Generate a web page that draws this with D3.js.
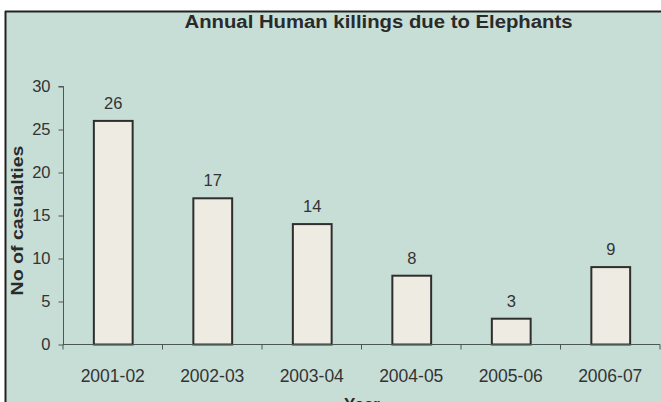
<!DOCTYPE html>
<html>
<head>
<meta charset="utf-8">
<script src="https://cdn.jsdelivr.net/npm/d3@7"></script>
<style>
  html, body { margin: 0; padding: 0; background: #fff; }
  svg { display: block; }
</style>
</head>
<body>
<div id="chart"></div>
<script>
// Annual human deaths caused by elephants, by financial year
const years = ["2001-02", "2002-03", "2003-04", "2004-05", "2005-06", "2006-07"];
const casualties = [26, 17, 14, 8, 3, 9];
const yTicks = [0, 5, 10, 15, 20, 25, 30];

const W = 661, H = 402;
const svg = d3.select("#chart").append("svg")
  .attr("width", W).attr("height", H);

// chart panel with dark frame on top and left
svg.append("rect").attr("x", 6).attr("y", 12).attr("width", W - 6).attr("height", H - 12)
  .attr("fill", "#c7ded7");
svg.append("line").attr("x1", 5).attr("x2", W).attr("y1", 11.5).attr("y2", 11.5)
  .attr("stroke", "#222").attr("stroke-width", 2);
svg.append("line").attr("x1", 5.5).attr("x2", 5.5).attr("y1", 11).attr("y2", H)
  .attr("stroke", "#222").attr("stroke-width", 2);

const x0 = 63, x1 = 660, yBase = 344.5, yTop = 86.5;
const x = d3.scaleBand().domain(years).range([x0, x1]).paddingInner(0.6).paddingOuter(0.3);
const y = d3.scaleLinear().domain([0, 30]).range([yBase, yTop]);

const font = "Arial, 'Liberation Sans', sans-serif";
const textCol = "#333";
const axisCol = "#4c5753";

// title
svg.append("text").attr("x", 378.5).attr("y", 28).attr("text-anchor", "middle")
  .attr("font-family", font).attr("font-size", 18).attr("font-weight", "bold")
  .attr("textLength", 388).attr("lengthAdjust", "spacingAndGlyphs")
  .attr("fill", "#2a2a2a").text("Annual Human killings due to Elephants");

// bars
svg.append("g").selectAll("rect").data(years).join("rect")
  .attr("x", d => x(d) + 1)
  .attr("y", (d, i) => y(casualties[i]))
  .attr("width", x.bandwidth() - 1)
  .attr("height", (d, i) => yBase - y(casualties[i]))
  .attr("fill", "#eeebe2").attr("stroke", "#2e2e2e").attr("stroke-width", 2);

// value labels
svg.append("g").selectAll("text").data(years).join("text")
  .attr("x", d => x(d) + x.bandwidth() / 2 + 0.5)
  .attr("y", (d, i) => y(casualties[i]) - 12)
  .attr("text-anchor", "middle")
  .attr("font-family", font).attr("font-size", 16.5).attr("fill", textCol)
  .text((d, i) => casualties[i]);

// y axis
const yAxis = d3.axisLeft(y).tickValues(yTicks).tickSize(5).tickPadding(8);
const gy = svg.append("g").attr("transform", `translate(${x0 + 0.5},0)`).call(yAxis);
gy.select(".domain").attr("stroke", axisCol).attr("d", `M-5,${yTop}H0V${yBase}`);
gy.selectAll(".tick line").attr("stroke", axisCol);
gy.selectAll(".tick text").attr("font-family", font).attr("font-size", 16.5).attr("fill", textCol);

// x axis with ticks at band boundaries
const gx = svg.append("g").attr("transform", `translate(0,${yBase})`);
gx.append("line").attr("x1", x0).attr("x2", x1).attr("y1", 0).attr("y2", 0)
  .attr("stroke", axisCol).attr("stroke-width", 1.2);
const step = x.step();
const bounds = d3.range(years.length + 1).map(i => x0 + i * step);
gx.selectAll("line.tk").data(bounds).join("line").attr("class", "tk")
  .attr("x1", d => d).attr("x2", d => d).attr("y1", 0).attr("y2", 5)
  .attr("stroke", axisCol);
gx.selectAll("text").data(years).join("text")
  .attr("x", d => x(d) + x.bandwidth() / 2)
  .attr("y", 37)
  .attr("text-anchor", "middle")
  .attr("font-family", font).attr("font-size", 17.5).attr("fill", textCol)
  .text(d => d);

// axis titles
svg.append("text").attr("x", 362).attr("y", 410).attr("text-anchor", "middle")
  .attr("font-family", font).attr("font-size", 17).attr("font-weight", "bold")
  .attr("fill", "#2a2a2a").text("Year");
svg.append("text")
  .attr("transform", `translate(23,${(yTop + yBase) / 2 + 5}) rotate(-90)`)
  .attr("text-anchor", "middle")
  .attr("font-family", font).attr("font-size", 16).attr("font-weight", "bold")
  .attr("textLength", 150).attr("lengthAdjust", "spacingAndGlyphs")
  .attr("fill", "#2a2a2a").text("No of casualties");
</script>
</body>
</html>
